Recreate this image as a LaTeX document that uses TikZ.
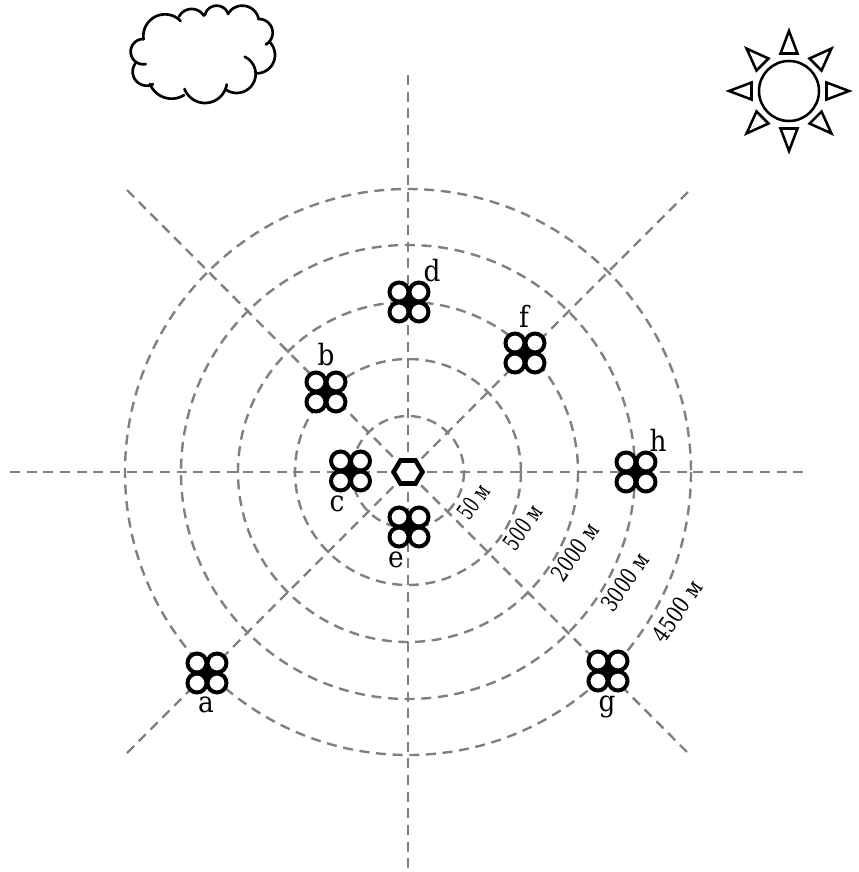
\documentclass[tikz,border=0pt]{standalone}
\usepackage{fontspec}
\setmainfont{DejaVu Serif Condensed}
\newcommand{\bump}[5]{\draw[cloudline] plot[smooth,domain=#4:#5,samples=24] ({#1+#3*cos(\x)},{#2+#3*sin(\x)});}
\tikzset{
  px/.style={x=0.75pt,y=-0.75pt},
  guide/.style={draw=black!50,line width=1.8pt,dash pattern=on 7.5pt off 5pt},
  sunline/.style={draw=black,line width=1.9pt,fill=white,line join=miter},
  cloudline/.style={draw=black,line width=2pt,line cap=round},
  lbl/.style={font=\fontsize{22}{22}\selectfont,inner sep=0pt,text=black},
  dist/.style={font=\fontsize{17.5}{17.5}\selectfont,inner sep=0pt,rotate=55,text=black},
  pics/drone/.style={code={
    \foreach \dx/\dy in {-10/-10,10/-10,-10/10,10/10}
      \fill[white] (\dx,\dy) circle[radius=9.5];
    \foreach \dx/\dy in {-10/-10,10/-10,-10/10,10/10}
      \draw[draw=black,line width=3pt] (\dx,\dy) circle[radius=9.5];
    \fill[black] (0,0) circle[radius=5.5];
  }}
}
\begin{document}
\begin{tikzpicture}[px]
\useasboundingbox (0,0) rectangle (859,872);
\fill[white] (0,0) rectangle (859,872);
% guides
\coordinate (o) at (408,472);
\coordinate (W) at (10,472);   \coordinate (E) at (806,472);
\coordinate (N) at (408,75);   \coordinate (S) at (408,870);
\coordinate (NW) at (127,190); \coordinate (SE) at (689,754);
\coordinate (SW) at (127,753); \coordinate (NE) at (689,191);
\foreach \r in {56,113,170,227,283}
  \draw[guide] (o) circle[radius=\r];
\draw[guide] (W) -- (E);
\draw[guide] (N) -- (S);
\draw[guide] (NW) -- (SE);
\draw[guide] (SW) -- (NE);
% base
\draw[draw=black,fill=white,line width=3.4pt,line join=miter]
  (408-14.5,472) -- (408-7.5,472-11.5) -- (408+7.5,472-11.5) -- (408+14.5,472) -- (408+7.5,472+11.5) -- (408-7.5,472+11.5) -- cycle;
% drones
\pic at (207,673) {drone};
\pic at (326,392) {drone};
\pic at (350.5,471) {drone};
\pic at (409,302) {drone};
\pic at (409,527) {drone};
\pic at (525,353) {drone};
\pic at (608,671) {drone};
\pic at (636,472) {drone};
\node[lbl] (la) at (206,705) {a};
\node[lbl] (lb) at (326,355) {b};
\node[lbl] (lc) at (337,504) {c};
\node[lbl] (ld) at (432,271) {d};
\node[lbl] (le) at (396,560) {e};
\node[lbl] (lf) at (524,316) {f};
\node[lbl] (lg) at (607,707) {g};
\node[lbl] (lh) at (658,440) {h};
\node[dist] (d1) at (473.5,502) {\scalebox{0.74}[1]{50 м}};
\node[dist] (d2) at (522.5,527) {\scalebox{0.78}[1]{500 м}};
\node[dist] (d3) at (575,552) {\scalebox{0.84}[1]{2000 м}};
\node[dist] (d4) at (625,582) {\scalebox{0.85}[1]{3000 м}};
\node[dist] (d5) at (677,611) {\scalebox{0.9}[1]{4500 м}};
% sun
\draw[sunline] (789,91) circle[radius=30];
\begin{scope}[shift={(789,91)}]
\foreach \a in {0,45,...,315}
  \draw[sunline,rotate=\a] (37.5,-8.5) -- (60,0) -- (37.5,8.5) -- cycle;
\end{scope}
% cloud
\begin{scope}[shift={(110,0)},x=0.25pt,y=-0.25pt]
\bump{165}{108}{65}{171}{316}
\bump{245}{70}{43}{207}{328}
\bump{320}{53}{36}{193}{343}
\bump{397}{67}{50}{211}{348}
\bump{447}{98}{41}{267}{420}
\bump{440}{165}{55}{-47}{92}
\bump{380}{222}{57}{-65}{123}
\bump{285}{243}{66}{9}{159}
\bump{185}{226}{70}{58}{158}
\bump{110}{215}{42}{63}{216}
\bump{100}{155}{38}{79}{270}
\end{scope}
\end{tikzpicture}
\end{document}
